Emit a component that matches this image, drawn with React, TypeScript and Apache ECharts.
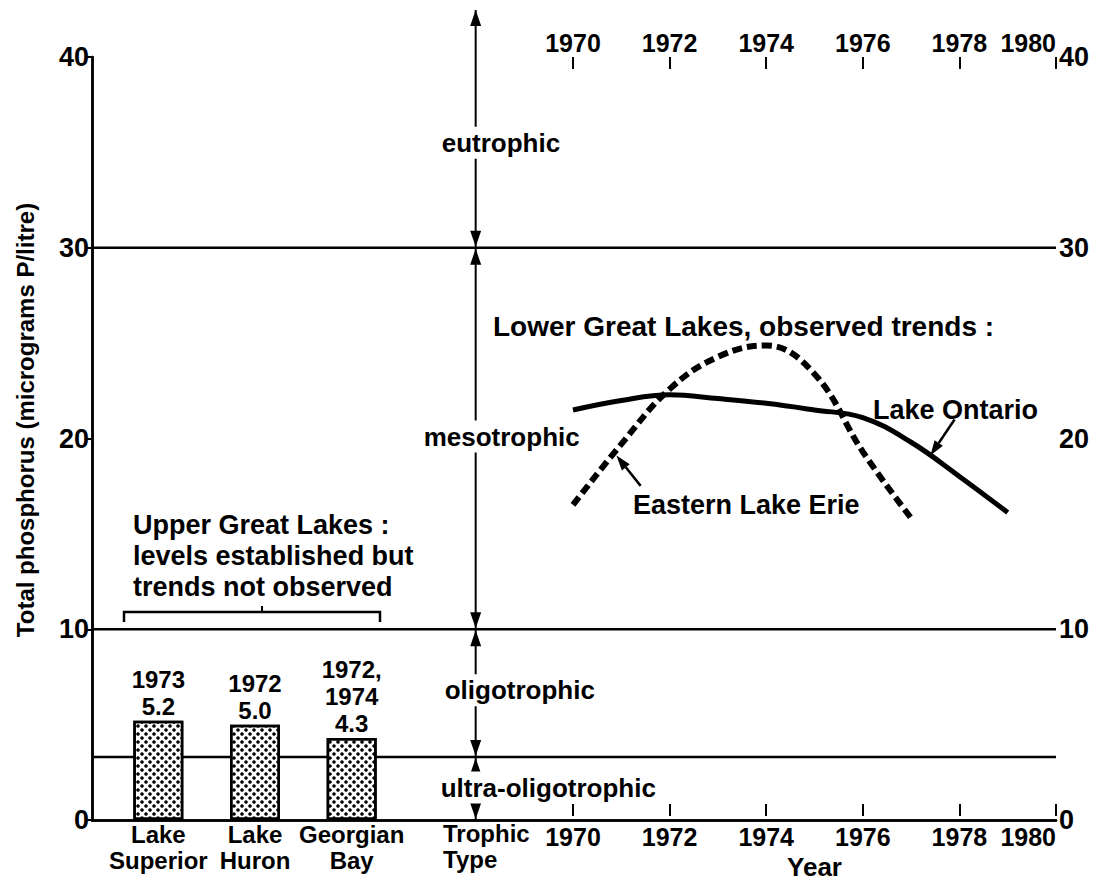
import React, { useEffect, useRef } from "react";
import * as echarts from "echarts";

// ---------- data ----------
const LAKES = ["Lake\nSuperior", "Lake\nHuron", "Georgian\nBay"];
const BAR_VALUES = [5.2, 5.0, 4.3];
const BAR_YEARS = ["1973", "1972", "1972,\n1974"];

const ONTARIO_YEARS = [1970, 1971, 1972, 1973, 1974, 1975, 1976, 1977, 1978, 1979];
const ONTARIO_TP = [21.4, 21.9, 22.2, 22.0, 21.75, 21.4, 21.0, 19.7, 17.9, 16.0];

const ERIE_YEARS = [1970, 1971, 1972, 1973, 1974, 1975, 1976, 1977];
const ERIE_TP = [16.4, 19.6, 22.5, 24.2, 24.8, 23.3, 19.2, 15.7];

const TROPHIC_BOUNDARIES = [30, 10, 3.3];
const TROPHIC_ZONES = ["eutrophic", "mesotrophic", "oligotrophic", "ultra-oligotrophic"];
const TROPHIC_ZONE_MID = [35.5, 20.1, 6.8, 1.7];

const Y_MIN = 0;
const Y_MAX = 40;
const Y_STEP = 10;
const YEAR_MIN = 1970;
const YEAR_MAX = 1980;
const YEAR_STEP = 2;

// annotation pointers (data coordinates on the year grid)
const ONTARIO_POINTER = [[1977.9, 20.9], [1977.4, 19.0]];
const ERIE_POINTER = [[1971.4, 17.4], [1970.9, 19.0]];

// ---------- layout / style ----------
const FONT = '"Liberation Sans", Arial, Helvetica, sans-serif';
const FRAME_LEFT = 92;
const FRAME_TOP = 57;
const FRAME_W = 964;
const FRAME_H = 763;
const TROPHIC_X = 0.398; // fraction of frame width
const TROPHIC_LABEL_DX = [-34, -52, -31, -35];

function App() {
  const ref = useRef<HTMLDivElement>(null);

  useEffect(() => {
    document.body.style.margin = "0";
    if (!ref.current) return;
    const chart = echarts.init(ref.current, undefined, { renderer: "svg" });

    const txt = (size: number) => ({
      fontFamily: FONT,
      fontWeight: "bold" as const,
      fontSize: size,
      color: "#000",
    });

    const arrowHead = (x: number, y: number, dir: number) => ({
      type: "polygon",
      shape: {
        points: [
          [x, y],
          [x - 5.5, y - dir * 16],
          [x + 5.5, y - dir * 16],
        ],
      },
      style: { fill: "#000" },
    });

    const yearLabel = (v: number) => String(Math.round(v));

    const option: any = {
      animation: false,
      backgroundColor: "#fff",
      textStyle: { fontFamily: FONT },
      grid: [
        { left: FRAME_LEFT, top: FRAME_TOP, width: FRAME_W, height: FRAME_H },
        { left: 110, top: FRAME_TOP, width: 290, height: FRAME_H },
        { left: 573, top: FRAME_TOP, width: FRAME_LEFT + FRAME_W - 573, height: FRAME_H },
      ],
      xAxis: [
        {
          gridIndex: 0, type: "value", min: 0, max: 1, position: "bottom",
          axisLine: { show: true, lineStyle: { color: "#000", width: 2.5 } },
          axisTick: { show: false }, axisLabel: { show: false }, splitLine: { show: false },
        },
        {
          gridIndex: 0, type: "value", min: 0, max: 1, position: "top",
          axisLine: { show: true, lineStyle: { color: "#000", width: 2.5 } },
          axisTick: { show: false }, axisLabel: { show: false }, splitLine: { show: false },
        },
        {
          gridIndex: 1, type: "category", data: LAKES, position: "bottom",
          axisLine: { show: false }, axisTick: { show: false },
          axisLabel: { ...txt(24), lineHeight: 26, margin: 1, interval: 0 },
        },
        {
          gridIndex: 2, type: "value", min: YEAR_MIN, max: YEAR_MAX, interval: YEAR_STEP, position: "bottom",
          axisLine: { show: false },
          axisTick: { show: true, inside: true, length: 12, lineStyle: { color: "#000", width: 2 } },
          axisLabel: {
            ...txt(25), margin: 8, formatter: yearLabel,
            showMaxLabel: true, showMinLabel: true, alignMaxLabel: "right", hideOverlap: false,
          },
          splitLine: { show: false },
          name: "Year", nameLocation: "middle", nameGap: 30,
          nameTextStyle: { ...txt(26), verticalAlign: "top" },
        },
        {
          gridIndex: 2, type: "value", min: YEAR_MIN, max: YEAR_MAX, interval: YEAR_STEP, position: "top",
          axisLine: { show: false },
          axisTick: { show: true, inside: true, length: 12, lineStyle: { color: "#000", width: 2 } },
          axisLabel: {
            ...txt(25), margin: 2, formatter: yearLabel,
            showMaxLabel: true, showMinLabel: true, alignMaxLabel: "right", hideOverlap: false,
          },
          splitLine: { show: false },
        },
      ],
      yAxis: [
        {
          gridIndex: 0, type: "value", min: Y_MIN, max: Y_MAX, interval: Y_STEP, position: "left",
          axisLine: { show: true, lineStyle: { color: "#000", width: 2.5 } },
          axisTick: { show: true, length: 6, lineStyle: { color: "#000", width: 2 } },
          axisLabel: { ...txt(27), margin: 3 },
          splitLine: { show: false },
        },
        {
          gridIndex: 0, type: "value", min: Y_MIN, max: Y_MAX, interval: Y_STEP, position: "right",
          axisLine: { show: true, lineStyle: { color: "#000", width: 2.5 } },
          axisTick: { show: true, inside: true, length: 6, lineStyle: { color: "#000", width: 2 } },
          axisLabel: { ...txt(27), margin: 3 },
          splitLine: { show: false },
        },
        { gridIndex: 1, type: "value", min: Y_MIN, max: Y_MAX, show: false },
        { gridIndex: 2, type: "value", min: Y_MIN, max: Y_MAX, show: false },
      ],
      series: [
        {
          type: "custom",
          name: "trophic",
          xAxisIndex: 0,
          yAxisIndex: 0,
          z: 1,
          silent: true,
          data: [[TROPHIC_X, 0]],
          renderItem: (_p: any, api: any) => {
            const top = api.coord([TROPHIC_X, Y_MAX]);
            const bot = api.coord([TROPHIC_X, Y_MIN]);
            const x = top[0];
            const children: any[] = [];
            TROPHIC_BOUNDARIES.forEach((b) => {
              const p0 = api.coord([0, b]);
              const p1 = api.coord([1, b]);
              children.push({
                type: "line",
                shape: { x1: p0[0], y1: p0[1], x2: p1[0], y2: p1[1] },
                style: { stroke: "#000", lineWidth: 2.5 },
              });
            });
            children.push({
              type: "line",
              shape: { x1: x, y1: top[1] - 47, x2: x, y2: bot[1] },
              style: { stroke: "#000", lineWidth: 2 },
            });
            children.push(arrowHead(x, top[1] - 47, -1));
            TROPHIC_BOUNDARIES.forEach((b) => {
              const y = api.coord([TROPHIC_X, b])[1];
              children.push(arrowHead(x, y - 1, 1));
              children.push(arrowHead(x, y + 1, -1));
            });
            children.push(arrowHead(x, bot[1] - 1, 1));
            TROPHIC_ZONES.forEach((z, i) => {
              const y = api.coord([TROPHIC_X, TROPHIC_ZONE_MID[i]])[1];
              children.push({
                type: "text",
                x: x + TROPHIC_LABEL_DX[i],
                y,
                style: {
                  text: z,
                  font: `bold 26px ${FONT}`,
                  fill: "#000",
                  align: "left",
                  verticalAlign: "middle",
                  backgroundColor: "#fff",
                  padding: [3, 0, 3, 0],
                },
              });
            });
            return { type: "group", children };
          },
        },
        {
          type: "bar",
          name: "Upper Great Lakes",
          xAxisIndex: 2,
          yAxisIndex: 2,
          z: 3,
          barWidth: 50,
          data: BAR_VALUES,
          itemStyle: {
            color: "#fff",
            borderColor: "#000",
            borderWidth: 2.5,
            decal: {
              symbol: "circle",
              symbolSize: 0.9,
              color: "#000",
              backgroundColor: "#fff",
              dashArrayX: [[4, 4], [0, 4, 4, 0]],
              dashArrayY: [4, 0],
              rotation: 0,
            },
          },
          label: {
            show: true,
            position: "top",
            distance: 1,
            ...txt(24),
            lineHeight: 27,
            formatter: (p: any) => `${BAR_YEARS[p.dataIndex]}\n${Number(p.value).toFixed(1)}`,
          },
        },
        {
          type: "line",
          name: "Lake Ontario",
          xAxisIndex: 3,
          yAxisIndex: 3,
          z: 4,
          smooth: 0.4,
          symbol: "none",
          data: ONTARIO_YEARS.map((y, i) => [y, ONTARIO_TP[i]]),
          lineStyle: { color: "#000", width: 5 },
        },
        {
          type: "line",
          name: "Eastern Lake Erie",
          xAxisIndex: 3,
          yAxisIndex: 3,
          z: 4,
          smooth: 0.4,
          symbol: "none",
          data: ERIE_YEARS.map((y, i) => [y, ERIE_TP[i]]),
          lineStyle: { color: "#000", width: 6, type: [10, 5] },
        },
        {
          type: "custom",
          name: "pointers",
          xAxisIndex: 3,
          yAxisIndex: 3,
          z: 5,
          silent: true,
          data: [[YEAR_MIN, 0]],
          renderItem: (_p: any, api: any) => {
            const children: any[] = [];
            [ONTARIO_POINTER, ERIE_POINTER].forEach((ptr) => {
              const a = api.coord(ptr[0]);
              const b = api.coord(ptr[1]);
              const ang = Math.atan2(b[1] - a[1], b[0] - a[0]);
              const L = 15;
              const W = 5;
              const bx = b[0] - L * Math.cos(ang);
              const by = b[1] - L * Math.sin(ang);
              children.push({
                type: "line",
                shape: { x1: a[0], y1: a[1], x2: bx, y2: by },
                style: { stroke: "#000", lineWidth: 2.5 },
              });
              children.push({
                type: "polygon",
                shape: {
                  points: [
                    [b[0], b[1]],
                    [bx + W * Math.sin(ang), by - W * Math.cos(ang)],
                    [bx - W * Math.sin(ang), by + W * Math.cos(ang)],
                  ],
                },
                style: { fill: "#000" },
              });
            });
            return { type: "group", children };
          },
        },
      ],
      graphic: [
        {
          type: "text",
          x: 25,
          y: 420,
          rotation: Math.PI / 2,
          style: {
            text: "Total phosphorus (micrograms P/litre)",
            font: `bold 24px ${FONT}`,
            fill: "#000",
            align: "center",
            verticalAlign: "middle",
          },
        },
        {
          type: "text",
          x: 493,
          y: 326,
          style: {
            text: "Lower Great Lakes, observed trends :",
            font: `bold 28px ${FONT}`,
            fill: "#000",
            align: "left",
            verticalAlign: "middle",
          },
        },
        {
          type: "text",
          x: 873,
          y: 410,
          style: {
            text: "Lake Ontario",
            font: `bold 27px ${FONT}`,
            fill: "#000",
            align: "left",
            verticalAlign: "middle",
          },
        },
        {
          type: "text",
          x: 633,
          y: 505,
          style: {
            text: "Eastern Lake Erie",
            font: `bold 27px ${FONT}`,
            fill: "#000",
            align: "left",
            verticalAlign: "middle",
          },
        },
        {
          type: "text",
          x: 133,
          y: 509,
          style: {
            text: "Upper Great Lakes :\nlevels established but\ntrends not observed",
            font: `bold 27px ${FONT}`,
            lineHeight: 31,
            fill: "#000",
            align: "left",
            verticalAlign: "top",
          },
        },
        {
          type: "polyline",
          shape: { points: [[124, 622], [124, 612], [380, 612], [380, 622]] },
          style: { stroke: "#000", lineWidth: 2.5, fill: null },
        },
        {
          type: "line",
          shape: { x1: 262, y1: 612, x2: 262, y2: 606 },
          style: { stroke: "#000", lineWidth: 2 },
        },
        {
          type: "text",
          x: 443,
          y: 820,
          style: {
            text: "Trophic\nType",
            font: `bold 24px ${FONT}`,
            lineHeight: 26,
            fill: "#000",
            align: "left",
            verticalAlign: "top",
          },
        },
      ],
    };

    chart.setOption(option);
    return () => chart.dispose();
  }, []);

  return <div ref={ref} style={{ width: 1102, height: 885 }} />;
}

export default App;
